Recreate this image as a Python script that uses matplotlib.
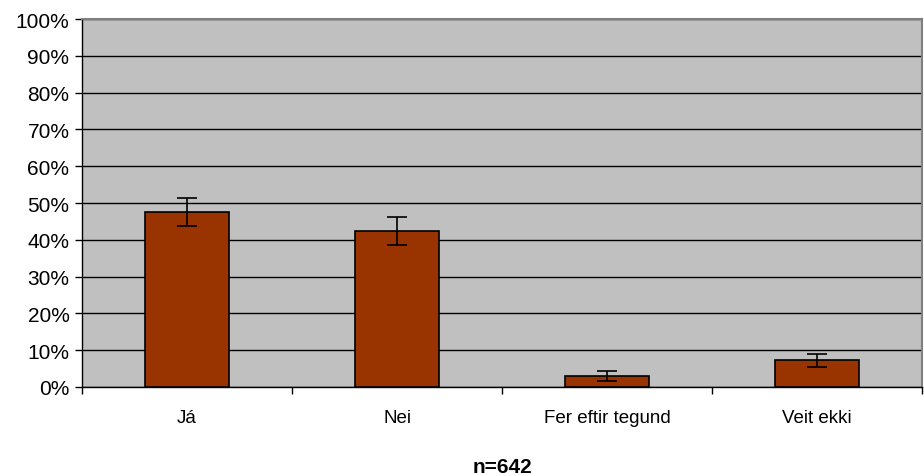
import matplotlib
matplotlib.use('Agg')
import matplotlib.pyplot as plt
import numpy as np

plt.rcParams['font.family'] = ['Liberation Sans', 'DejaVu Sans']

categories = ["Já", "Nei", "Fer eftir tegund", "Veit ekki"]
values = [47.5, 42.5, 3.0, 7.2]
errors = [3.8, 3.8, 1.4, 1.9]
y_ticks = list(range(0, 101, 10))
x_title = "n=642"

fig = plt.figure(figsize=(9.24, 4.77), dpi=100)
ax = fig.add_axes([0.0887, 0.1866, 0.9093, 0.7714])
ax.set_facecolor('#C0C0C0')

x = np.arange(len(categories))
ax.bar(x, values, width=0.4, color='#993300', edgecolor='black',
       linewidth=1.2, zorder=3)
ax.errorbar(x, values, yerr=errors, fmt='none', ecolor='black',
            elinewidth=1.2, capsize=7, capthick=1.2, zorder=4)

ax.set_xlim(-0.5, len(categories) - 0.5)
ax.set_ylim(0, 100)
ax.set_yticks(y_ticks)
ax.set_yticklabels([f"{t}%" for t in y_ticks], fontsize=15)
ax.yaxis.grid(True, color='black', linewidth=1, zorder=1)
ax.set_axisbelow(True)

ax.set_xticks(x)
ax.set_xticklabels(categories, fontsize=13.5)
ax.tick_params(axis='x', which='major', length=0, pad=16)
ax.set_xticks(np.arange(-0.5, len(categories), 1.0), minor=True)
ax.tick_params(axis='x', which='minor', length=5, width=1, color='black')
ax.tick_params(axis='y', length=5, width=1, color='black', pad=4)

for side in ['left', 'bottom']:
    ax.spines[side].set_color('black')
    ax.spines[side].set_linewidth(1)
for side in ['top', 'right']:
    ax.spines[side].set_color('#808080')
    ax.spines[side].set_linewidth(1.5)

ax.set_xlabel(x_title, fontsize=15, fontweight='bold', labelpad=22)

plt.savefig('out.png', dpi=100)
